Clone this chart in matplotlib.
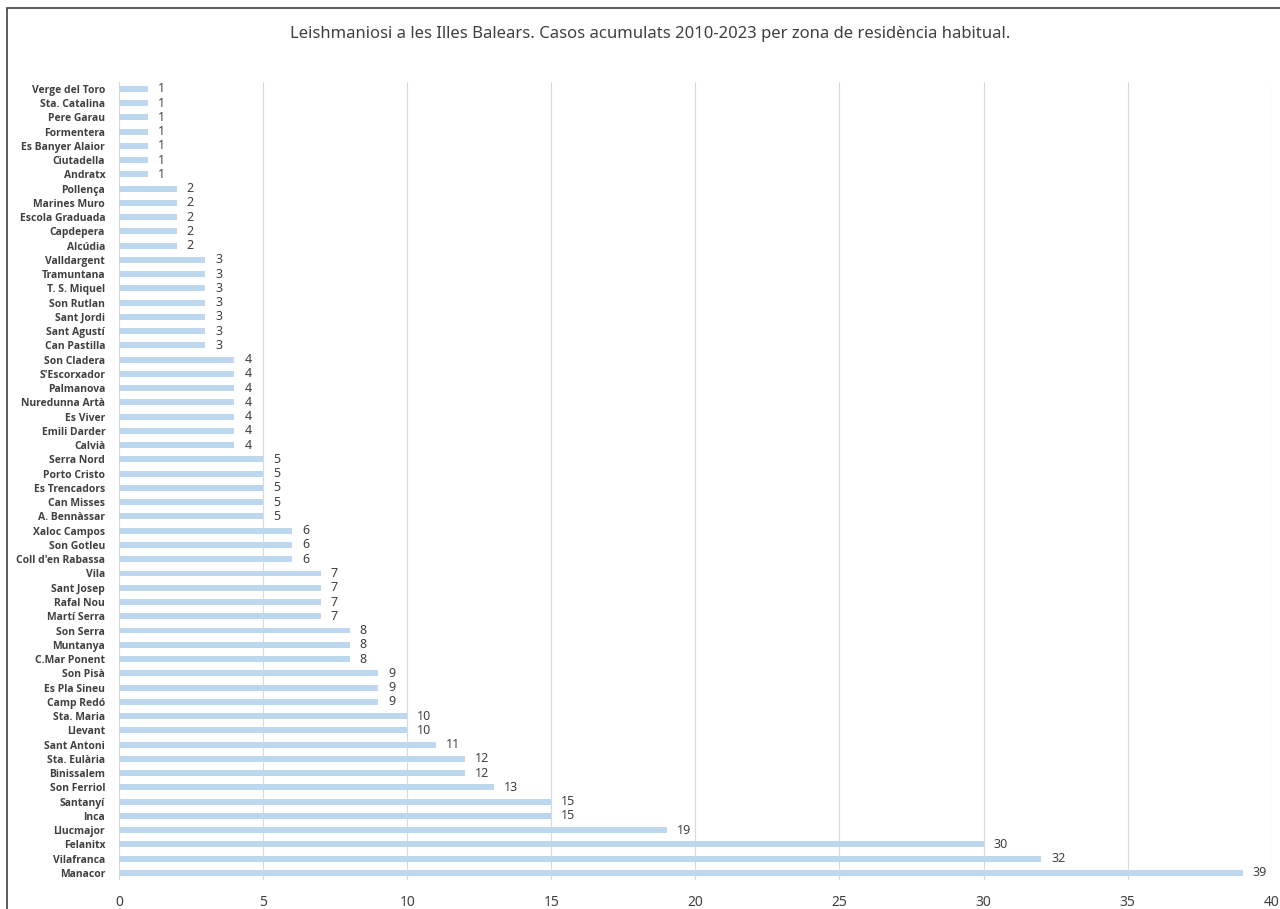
import matplotlib
matplotlib.use('Agg')
import matplotlib.pyplot as plt
from matplotlib.patches import Rectangle

plt.rcParams['font.family'] = ['Noto Sans', 'DejaVu Sans']

# zones, top -> bottom as in the reference
zones = [
    'Verge del Toro', 'Sta. Catalina', 'Pere Garau', 'Formentera', 'Es Banyer Alaior',
    'Ciutadella', 'Andratx', 'Pollença', 'Marines Muro', 'Escola Graduada',
    'Capdepera', 'Alcúdia', 'Valldargent', 'Tramuntana', 'T. S. Miquel',
    'Son Rutlan', 'Sant Jordi', 'Sant Agustí', 'Can Pastilla', 'Son Cladera',
    "S'Escorxador", 'Palmanova', 'Nuredunna Artà', 'Es Viver', 'Emili Darder',
    'Calvià', 'Serra Nord', 'Porto Cristo', 'Es Trencadors', 'Can Misses',
    'A. Bennàssar', 'Xaloc Campos', 'Son Gotleu', "Coll d'en Rabassa", 'Vila',
    'Sant Josep', 'Rafal Nou', 'Martí Serra', 'Son Serra', 'Muntanya',
    'C.Mar Ponent', 'Son Pisà', 'Es Pla Sineu', 'Camp Redó', 'Sta. Maria',
    'Llevant', 'Sant Antoni', 'Sta. Eulària', 'Binissalem', 'Son Ferriol',
    'Santanyí', 'Inca', 'Llucmajor', 'Felanitx', 'Vilafranca', 'Manacor',
]
cases = [
    1, 1, 1, 1, 1, 1, 1,
    2, 2, 2, 2, 2,
    3, 3, 3, 3, 3, 3, 3,
    4, 4, 4, 4, 4, 4, 4,
    5, 5, 5, 5, 5,
    6, 6, 6,
    7, 7, 7, 7,
    8, 8, 8,
    9, 9, 9,
    10, 10, 11, 12, 12, 13, 15, 15, 19, 30, 32, 39,
]
xticks = [0, 5, 10, 15, 20, 25, 30, 35, 40]
title = 'Leishmaniosi a les Illes Balears. Casos acumulats 2010-2023 per zona de residència habitual.'

txt = '#404040'
fig = plt.figure(figsize=(12.8, 9.09), dpi=100)
ax = fig.add_axes([0.093, 0.032, 0.9005, 0.878])

ypos = list(range(len(zones)))
ax.barh(ypos, cases, height=0.42, color='#BDD7EE', zorder=2)
for y, v in zip(ypos, cases):
    ax.text(v + 0.35, y, str(v), va='center', ha='left', fontsize=9, color=txt)

ax.set_ylim(len(zones) - 0.5, -0.5)
ax.set_xlim(0, 40)
ax.set_yticks(ypos)
# noto sans hat hier kein bold -> open sans für die zonen
ax.set_yticklabels(zones, fontsize=7.5, fontweight='bold', color=txt,
                   family=['Open Sans', 'DejaVu Sans'])
ax.set_xticks(xticks)
ax.tick_params(axis='x', length=0, pad=11, labelsize=10, labelcolor=txt)
ax.tick_params(axis='y', length=0, pad=10)
ax.grid(axis='x', color='#D9D9D9', linewidth=0.8, zorder=0)
for s in ax.spines.values():
    s.set_visible(False)

fig.text(0.508, 0.963, title, ha='center', va='center', fontsize=12, color=txt)

# outer frame like the spreadsheet chart border
fig.patches.append(Rectangle((7 / 1280, -0.02), 1.1, (909 - 8) / 909 + 0.02,
                             transform=fig.transFigure, fill=False,
                             edgecolor='#404040', linewidth=1.2))

fig.savefig('out.png', dpi=100)
